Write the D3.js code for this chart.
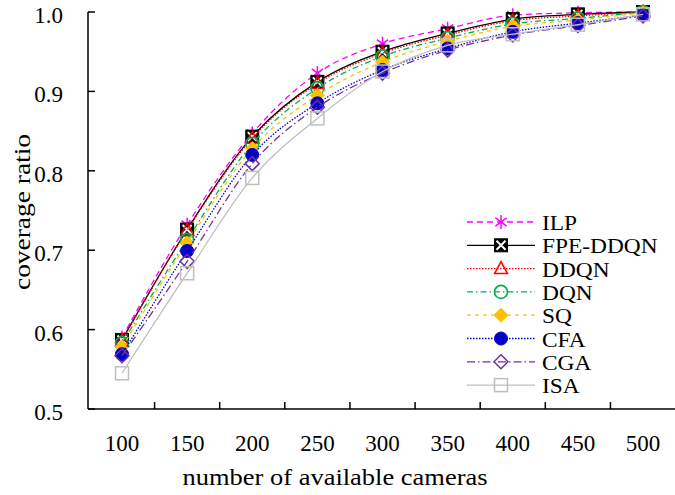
<!DOCTYPE html>
<html><head><meta charset="utf-8">
<script src="https://cdn.jsdelivr.net/npm/d3@7"></script>
<style>html,body{margin:0;padding:0;background:#fff;}svg{display:block;font-family:"Liberation Serif","Times New Roman",serif;}</style>
</head><body>
<svg id="c" width="675" height="495"></svg>
<script>
const cameras = [100,150,200,250,300,350,400,450,500];
const yTicks = [0.5,0.6,0.7,0.8,0.9,1.0];
const seriesNames = ["ILP","FPE-DDQN","DDQN","DQN","SQ","CFA","CGA","ISA"];
const ILP     = [0.590,0.732,0.847,0.923,0.960,0.979,0.996,0.999,1.000];
const FPEDDQN = [0.587,0.726,0.843,0.912,0.950,0.973,0.991,0.997,1.000];
const DDQN    = [0.586,0.725,0.841,0.910,0.948,0.971,0.989,0.995,1.000];
const DQN     = [0.583,0.713,0.834,0.904,0.944,0.967,0.985,0.992,1.000];
const SQ      = [0.578,0.709,0.828,0.895,0.937,0.963,0.982,0.990,0.999];
const CFA     = [0.569,0.699,0.820,0.885,0.927,0.954,0.975,0.986,0.996];
const CGA     = [0.567,0.686,0.809,0.880,0.923,0.952,0.971,0.983,0.995];
const ISA     = [0.545,0.671,0.791,0.866,0.925,0.958,0.972,0.984,0.997];
const values = [ILP,FPEDDQN,DDQN,DQN,SQ,CFA,CGA,ISA];

const styles = [
  {color:"#ff00ff", dash:"6,4", marker:"asterisk"},
  {color:"#000000", dash:null, marker:"xsquare"},
  {color:"#ff0000", dash:"1.5,1.5", marker:"triangle"},
  {color:"#00b050", dash:"6,3,1.5,3", marker:"circle"},
  {color:"#ffc000", dash:"4,4", marker:"diamondFill"},
  {color:"#0000c8", dash:"1.5,1.5", marker:"dot"},
  {color:"#7030a0", dash:"8,3,1.5,3", marker:"diamond"},
  {color:"#bfbfbf", dash:null, marker:"square"}
];

const svg = d3.select("#c");
const x = d3.scaleLinear().domain([100,500]).range([122,643]);
const y = d3.scaleLinear().domain([0.5,1.0]).range([409,12]);
const x0 = 88, x1 = 675;

// axes
const g = svg.append("g");
g.append("line").attr("x1",x0).attr("x2",x0).attr("y1",y(1.0)).attr("y2",y(0.5)).attr("stroke","#000").attr("stroke-width",1.5);
g.append("line").attr("x1",x0).attr("x2",x1).attr("y1",y(0.5)).attr("y2",y(0.5)).attr("stroke","#000").attr("stroke-width",1.5);
yTicks.forEach(t=>{
  g.append("line").attr("x1",x0).attr("x2",x0+7).attr("y1",y(t)).attr("y2",y(t)).attr("stroke","#000").attr("stroke-width",1.5);
  g.append("text").attr("x",63).attr("y",y(t)+3).attr("dy","0.35em").attr("text-anchor","end").attr("font-size",23).text(t.toFixed(1));
});
const step = cameras[1]-cameras[0];
cameras.slice(0,-1).forEach(c=>{
  const xm = x(c+step/2);
  g.append("line").attr("x1",xm).attr("x2",xm).attr("y1",y(0.5)).attr("y2",y(0.5)-7).attr("stroke","#000").attr("stroke-width",1.5);
});
cameras.forEach(c=>{
  g.append("text").attr("x",x(c)).attr("y",443).attr("dy","0.35em").attr("text-anchor","middle").attr("font-size",23).text(c);
});
g.append("text").attr("x",335).attr("y",477).attr("dy","0.35em").attr("text-anchor","middle").attr("font-size",24)
  .attr("textLength",305).attr("lengthAdjust","spacingAndGlyphs").text("number of available cameras");
g.append("text").attr("transform","translate(22,212) rotate(-90)").attr("dy","0.35em").attr("text-anchor","middle").attr("font-size",24)
  .attr("textLength",156).attr("lengthAdjust","spacingAndGlyphs").text("coverage ratio");

function drawMarker(sel, type, color, cx, cy){
  const m = sel.append("g").attr("transform",`translate(${cx},${cy})`);
  const s = 7;
  if(type==="asterisk"){
    [[0,-s,0,s],[-s*0.8,-s*0.6,s*0.8,s*0.6],[-s*0.8,s*0.6,s*0.8,-s*0.6]].forEach(l=>{
      m.append("line").attr("x1",l[0]).attr("y1",l[1]).attr("x2",l[2]).attr("y2",l[3]).attr("stroke",color).attr("stroke-width",1.5);
    });
  } else if(type==="xsquare"){
    m.append("rect").attr("x",-6.5).attr("y",-6.5).attr("width",13).attr("height",13).attr("fill","#000").attr("stroke","#000");
    m.append("path").attr("d","M-4.5,-4.5L4.5,4.5M-4.5,4.5L4.5,-4.5").attr("stroke","#fff").attr("stroke-width",2);
  } else if(type==="triangle"){
    m.append("path").attr("d","M0,-7L6.5,5L-6.5,5Z").attr("fill","none").attr("stroke",color).attr("stroke-width",1.5);
  } else if(type==="circle"){
    m.append("circle").attr("r",6.5).attr("fill","none").attr("stroke",color).attr("stroke-width",1.7);
  } else if(type==="diamondFill"){
    m.append("path").attr("d","M0,-7L7,0L0,7L-7,0Z").attr("fill",color).attr("stroke",color);
  } else if(type==="dot"){
    m.append("circle").attr("r",6.5).attr("fill",color).attr("stroke",color);
  } else if(type==="diamond"){
    m.append("path").attr("d","M0,-7L7,0L0,7L-7,0Z").attr("fill","none").attr("stroke",color).attr("stroke-width",1.5);
  } else if(type==="square"){
    m.append("rect").attr("x",-6.5).attr("y",-6.5).attr("width",13).attr("height",13).attr("fill","none").attr("stroke",color).attr("stroke-width",1.5);
  }
}

const line = d3.line().x((d,i)=>x(cameras[i])).y(d=>y(d)).curve(d3.curveMonotoneX);
values.forEach((vals,k)=>{
  const st = styles[k];
  const sg = svg.append("g");
  sg.append("path").attr("d",line(vals)).attr("fill","none").attr("stroke",st.color).attr("stroke-width",1.3).attr("stroke-dasharray",st.dash);
  vals.forEach((v,i)=>drawMarker(sg, st.marker, st.color, x(cameras[i]), y(v)));
});

// legend
const lg = svg.append("g");
seriesNames.forEach((n,k)=>{
  const st = styles[k];
  const ly = 222 + k*23.3;
  lg.append("line").attr("x1",467).attr("x2",535).attr("y1",ly).attr("y2",ly).attr("stroke",st.color).attr("stroke-width",1.3).attr("stroke-dasharray",st.dash);
  drawMarker(lg, st.marker, st.color, 501, ly);
  lg.append("text").attr("transform",`translate(542,${ly+1}) scale(1.17,1)`).attr("dy","0.35em").attr("font-size",20).text(n);
});
</script>
</body></html>
